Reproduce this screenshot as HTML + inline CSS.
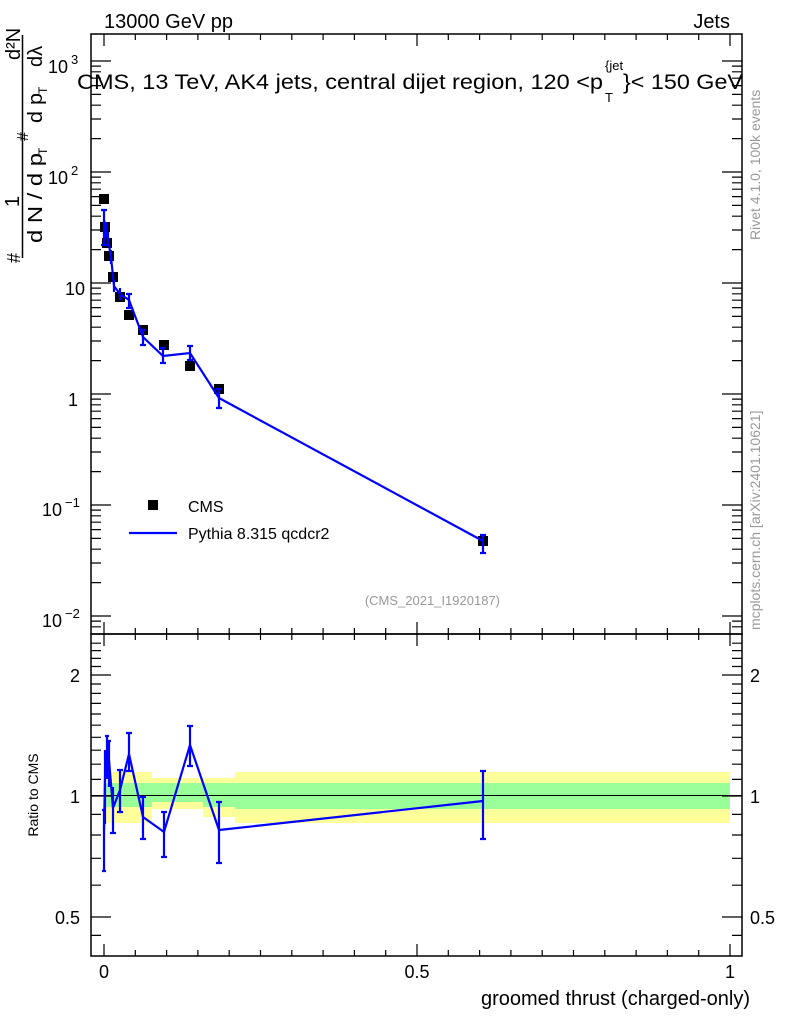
<!DOCTYPE html>
<html><head><meta charset="utf-8"><style>
html,body{margin:0;padding:0;background:#fff;}
svg{display:block;font-family:"Liberation Sans",Arial,sans-serif;}
</style></head><body>
<svg width="786" height="1024" viewBox="0 0 786 1024" xmlns="http://www.w3.org/2000/svg">
<rect width="786" height="1024" fill="#fff"/>
<!-- ratio bands -->
<rect x="104" y="772" width="48" height="51" fill="#ffff99"/>
<rect x="152" y="778" width="51" height="31" fill="#ffff99"/>
<rect x="203" y="778" width="32" height="39" fill="#ffff99"/>
<rect x="235" y="772" width="495" height="51" fill="#ffff99"/>
<rect x="104" y="783" width="48" height="24" fill="#99ff99"/>
<rect x="152" y="783" width="51" height="19" fill="#99ff99"/>
<rect x="203" y="783" width="32" height="24" fill="#99ff99"/>
<rect x="235" y="783" width="495" height="26" fill="#99ff99"/>
<line x1="91" y1="795.5" x2="742" y2="795.5" stroke="#000" stroke-width="1"/>
<!-- frames -->
<rect x="91" y="34" width="651" height="600" fill="none" stroke="#000" stroke-width="1.5"/>
<rect x="91" y="634" width="651" height="322" fill="none" stroke="#000" stroke-width="1.5"/>
<!-- x ticks -->
<g stroke="#000" stroke-width="1.2">
<path d="M104,34v12M135.3,34v6M166.6,34v6M197.9,34v6M229.2,34v6M260.5,34v6M291.8,34v6M323.1,34v6M354.4,34v6M385.7,34v6M417,34v12M448.3,34v6M479.6,34v6M510.9,34v6M542.2,34v6M573.5,34v6M604.8,34v6M636.1,34v6M667.4,34v6M698.7,34v6M730,34v12"/>
<path d="M104,634v-12M135.3,634v-6M166.6,634v-6M197.9,634v-6M229.2,634v-6M260.5,634v-6M291.8,634v-6M323.1,634v-6M354.4,634v-6M385.7,634v-6M417,634v-12M448.3,634v-6M479.6,634v-6M510.9,634v-6M542.2,634v-6M573.5,634v-6M604.8,634v-6M636.1,634v-6M667.4,634v-6M698.7,634v-6M730,634v-12"/>
<path d="M104,634v12M135.3,634v6M166.6,634v6M197.9,634v6M229.2,634v6M260.5,634v6M291.8,634v6M323.1,634v6M354.4,634v6M385.7,634v6M417,634v12M448.3,634v6M479.6,634v6M510.9,634v6M542.2,634v6M573.5,634v6M604.8,634v6M636.1,634v6M667.4,634v6M698.7,634v6M730,634v12"/>
<path d="M104,956v-12M135.3,956v-6M166.6,956v-6M197.9,956v-6M229.2,956v-6M260.5,956v-6M291.8,956v-6M323.1,956v-6M354.4,956v-6M385.7,956v-6M417,956v-12M448.3,956v-6M479.6,956v-6M510.9,956v-6M542.2,956v-6M573.5,956v-6M604.8,956v-6M636.1,956v-6M667.4,956v-6M698.7,956v-6M730,956v-12"/>
<path d="M91,61h20M91,172h20M91,283h20M91,394h20M91,505h20M91,616h20 M742,61h-20M742,172h-20M742,283h-20M742,394h-20M742,505h-20M742,616h-20"/>
<path d="M91,138.6h10M91,119h10M91,105.2h10M91,94.4h10M91,85.6h10M91,78.2h10M91,71.8h10M91,66.1h10 M91,249.6h10M91,230h10M91,216.2h10M91,205.4h10M91,196.6h10M91,189.2h10M91,182.8h10M91,177.1h10 M91,360.6h10M91,341h10M91,327.2h10M91,316.4h10M91,307.6h10M91,300.2h10M91,293.8h10M91,288.1h10 M91,471.6h10M91,452h10M91,438.2h10M91,427.4h10M91,418.6h10M91,411.2h10M91,404.8h10M91,399.1h10 M91,582.6h10M91,563h10M91,549.2h10M91,538.4h10M91,529.6h10M91,522.2h10M91,515.8h10M91,510.1h10 M91,621.1h10M91,626.8h10"/>
<path d="M742,138.6h-10M742,119h-10M742,105.2h-10M742,94.4h-10M742,85.6h-10M742,78.2h-10M742,71.8h-10M742,66.1h-10 M742,249.6h-10M742,230h-10M742,216.2h-10M742,205.4h-10M742,196.6h-10M742,189.2h-10M742,182.8h-10M742,177.1h-10 M742,360.6h-10M742,341h-10M742,327.2h-10M742,316.4h-10M742,307.6h-10M742,300.2h-10M742,293.8h-10M742,288.1h-10 M742,471.6h-10M742,452h-10M742,438.2h-10M742,427.4h-10M742,418.6h-10M742,411.2h-10M742,404.8h-10M742,399.1h-10 M742,582.6h-10M742,563h-10M742,549.2h-10M742,538.4h-10M742,529.6h-10M742,522.2h-10M742,515.8h-10M742,510.1h-10 M742,621.1h-10M742,626.8h-10"/>
<path d="M91,917h20M91,796h20M91,675h20 M742,917h-20M742,796h-20M742,675h-20"/>
<path d="M91,935.4h10M91,885.2h10M91,858.3h10M91,835h10M91,814.4h10M91,779.4h10M91,764.2h10M91,750.2h10M91,737.3h10M91,725.2h10M91,714h10M91,703.4h10M91,693.4h10M91,684h10M91,666.5h10M91,658.4h10M91,650.6h10M91,643.2h10 M742,935.4h-10M742,885.2h-10M742,858.3h-10M742,835h-10M742,814.4h-10M742,779.4h-10M742,764.2h-10M742,750.2h-10M742,737.3h-10M742,725.2h-10M742,714h-10M742,703.4h-10M742,693.4h-10M742,684h-10M742,666.5h-10M742,658.4h-10M742,650.6h-10M742,643.2h-10"/>
</g>
<!-- CMS points -->
<g fill="#000">
<rect x="99" y="194" width="10" height="10"/>
<rect x="100" y="222" width="10" height="10"/>
<rect x="102" y="238" width="10" height="10"/>
<rect x="104" y="251" width="10" height="10"/>
<rect x="108" y="272" width="10" height="10"/>
<rect x="115" y="292" width="10" height="10"/>
<rect x="124" y="310" width="10" height="10"/>
<rect x="138" y="325" width="10" height="10"/>
<rect x="159" y="340" width="10" height="10"/>
<rect x="185" y="361" width="10" height="10"/>
<rect x="214" y="384" width="10" height="10"/>
<rect x="478" y="536" width="10" height="10"/>
</g>
<g stroke="#0000ff" stroke-width="2.2" fill="none">
<polyline points="104,220 106,230 108,239 111,257 114,286 120,294 129,300 143,337 163,356 190,353 219,398 483,541"/>
<path d="M104,210V245M101,210h6M101,245h6 M106,222V238 M108,232V246 M111,250V264 M114,280V292 M120,288V300 M129,294V308M126,294h6M126,308h6 M143,330V345M140,330h6M140,345h6 M163,348V363M160,348h6M160,363h6 M190,346V360M187,346h6M187,360h6 M219,389V408M216,389h6M216,408h6 M483,535V553M480,535h6M480,553h6"/>
</g>
<g stroke="#0000ff" stroke-width="2.2" fill="none">
<polyline points="104,830 105,777 107,775 109,760 113,808 120,790 129,754 143,817 164,832 190,745 219,830 483,801"/>
<path d="M104,810V871M102,810h4M102,871h4 M105,750V824 M107,736V779M105,736h4 M109,741V787M107,741h4 M113,787V833M110,833h6 M120,770V812M117,770h6M117,812h6 M129,733V771M126,733h6M126,771h6 M143,797V839M140,797h6M140,839h6 M164,812V857M161,812h6M161,857h6 M190,726V766M187,726h6M187,766h6 M219,802V863M216,802h6M216,863h6 M483,771V839M480,771h6M480,839h6"/>
</g>
<!-- legend -->
<rect x="148" y="500" width="10" height="10" fill="#000"/>
<text x="188" y="512" font-size="16">CMS</text>
<line x1="129" y1="533" x2="177" y2="533" stroke="#0000ff" stroke-width="2.2"/>
<text x="188" y="539" font-size="16">Pythia 8.315 qcdcr2</text>
<text x="500" y="605" font-size="13" fill="#999" text-anchor="end">(CMS_2021_I1920187)</text>
<!-- labels -->
<text x="104" y="28" font-size="20">13000 GeV pp</text>
<text x="730" y="28" font-size="20" text-anchor="end">Jets</text>
<text x="77" y="89" font-size="21" textLength="526" lengthAdjust="spacingAndGlyphs">CMS, 13 TeV, AK4 jets, central dijet region, 120 &lt;p</text>
<text x="605" y="70" font-size="13">{jet</text>
<text x="605" y="102" font-size="13">T</text>
<text x="623" y="89" font-size="21" textLength="120" lengthAdjust="spacingAndGlyphs">}&lt; 150 GeV</text>
<g font-size="18">
<text x="78" y="406" text-anchor="end">1</text>
<text x="85" y="295" text-anchor="end">10</text>
<text x="48" y="73">10</text><text x="71" y="64" font-size="13">3</text>
<text x="48" y="184">10</text><text x="71" y="175" font-size="13">2</text>
<text x="42" y="516">10</text><text x="65" y="507" font-size="13">−1</text>
<text x="42" y="627">10</text><text x="65" y="618" font-size="13">−2</text>
<text x="80" y="682" text-anchor="end">2</text><text x="80" y="803" text-anchor="end">1</text><text x="80" y="924" text-anchor="end">0.5</text>
<text x="750" y="682">2</text><text x="750" y="803">1</text><text x="750" y="924">0.5</text>
</g>
<g font-size="18" text-anchor="middle">
<text x="104" y="978">0</text><text x="417" y="978">0.5</text><text x="730" y="978">1</text>
</g>
<text x="750" y="1005" font-size="20" text-anchor="end">groomed thrust (charged-only)</text>
<text transform="translate(38,795) rotate(-90)" font-size="14" text-anchor="middle">Ratio to CMS</text>
<g transform="translate(0,270) rotate(-90)">
<text x="7" y="20" font-size="18">#</text>
<text x="63" y="19" font-size="20">1</text>
<line x1="12" y1="22.5" x2="235" y2="22.5" stroke="#000" stroke-width="1.5"/>
<text x="27" y="42" font-size="20" textLength="90" lengthAdjust="spacingAndGlyphs">d N / d p</text>
<text x="115" y="47" font-size="12">T</text>
<text x="129" y="28" font-size="16">#</text>
<text x="147" y="42" font-size="20" textLength="30" lengthAdjust="spacingAndGlyphs">d p</text>
<text x="176" y="47" font-size="12">T</text>
<text x="203" y="42" font-size="20">dλ</text>
<text x="210" y="20" font-size="20">d²N</text>
</g>
<text transform="translate(760,240) rotate(-90)" font-size="14" fill="#999">Rivet 4.1.0,  100k events</text>
<text transform="translate(760,630) rotate(-90)" font-size="14" fill="#999">mcplots.cern.ch [arXiv:2401.10621]</text>
</svg>
</body></html>
